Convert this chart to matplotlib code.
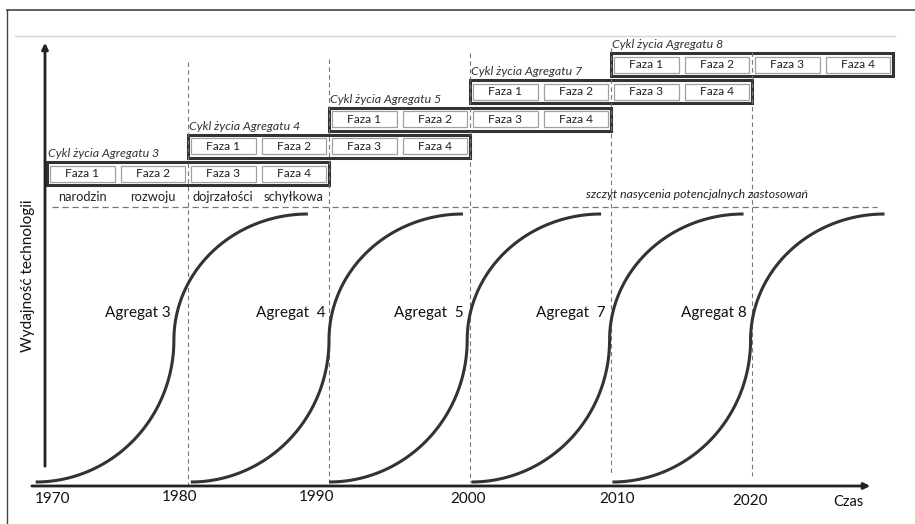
import numpy as np
import matplotlib
matplotlib.use('Agg')
import matplotlib.pyplot as plt
from matplotlib.patches import Rectangle

plt.rcParams['font.family'] = ['Lato', 'DejaVu Sans']

# data
aggregates = ['3', '4', '5', '7', '8']
agg_labels = ['Agregat 3', 'Agregat  4', 'Agregat  5', 'Agregat  7', 'Agregat 8']
cycle_start = [1970, 1980, 1990, 2000, 2010]          # start of life cycle (boxes)
curve_start = [1969.2, 1980.2, 1990.0, 2000.1, 2010.1]  # start of S-curve
rise_years = 9.8       # years to inflection
sat_years = 9.5        # years from inflection to saturation
cycle_len = 20
phases = ['Faza 1', 'Faza 2', 'Faza 3', 'Faza 4']
phase_names = ['narodzin', 'rozwoju', 'dojrzałości', 'schyłkowa']
decades = [1970, 1980, 1990, 2000, 2010, 2020]

# pixel-like vertical layout (y grows downward)
Y_BASE, Y_INFL, Y_TOP = 482, 340, 214
Y_SAT = 207
PX = 14.1  # pixels per year

fig = plt.figure(figsize=(9.15, 5.24), dpi=100)
ax = fig.add_axes([0, 0, 1, 1])
ax.set_xlim(1970 - 47 / PX, 1970 + (915 - 47) / PX)
ax.set_ylim(524, 0)
ax.axis('off')

def yr(px):
    return 1970 + (px - 47) / PX

# frame and top rule
ax.plot([yr(7), yr(7)], [10, 524], color='#444', lw=1)
ax.plot([yr(7), yr(915)], [10, 10], color='#444', lw=1.2)
ax.plot([yr(15), yr(895)], [36, 36], color='#d4d4d4', lw=1)

# axes arrows
ax.annotate('', xy=(yr(45), 40), xytext=(yr(45), 469),
            arrowprops=dict(arrowstyle='-|>', lw=2, color='#222', mutation_scale=9))
ax.annotate('', xy=(yr(873), 486), xytext=(yr(29), 486),
            arrowprops=dict(arrowstyle='-|>', lw=2, color='#222', mutation_scale=9))

# decade dashed lines
line_tops = [62, 59, 53, 48, 52]
line_bots = [484, 482, 482, 473, 476]
for d, t, b in zip(decades[1:], line_tops, line_bots):
    ax.plot([d, d], [t, b], color='#777', lw=0.8, dashes=(4, 3))

# saturation line
ax.plot([yr(52), yr(877)], [Y_SAT, Y_SAT], color='#777', lw=0.9, dashes=(5, 3))
ax.text(yr(697), 194, 'szczyt nasycenia potencjalnych zastosowań', style='italic',
        fontsize=8.8, ha='center', va='center', color='#222')

# S-curves
t = np.linspace(0, np.pi / 2, 60)
for s, lab in zip(curve_start, agg_labels):
    xb = s + rise_years * np.sin(t)
    yb = Y_INFL + (Y_BASE - Y_INFL) * np.cos(t)
    xt = s + rise_years + sat_years * (1 - np.cos(t))
    yt = Y_INFL - (Y_INFL - Y_TOP) * np.sin(t)
    ax.plot(np.r_[xb, xt], np.r_[yb, yt], color='#333', lw=2.2, solid_capstyle='butt')
    ax.text(s + rise_years - 0.25, 313, lab, fontsize=11, ha='right', va='center', color='#111')

# life cycle boxes
for i, (c, a) in enumerate(zip(cycle_start, aggregates)):
    top = 162 - 27.2 * i
    h = 23
    ax.add_patch(Rectangle((c, top), cycle_len, h, fill=False, ec='#333', lw=2.2))
    ax.text(c + 0.05, top - 8.5, 'Cykl życia Agregatu ' + a, style='italic',
            fontsize=8.9, ha='left', va='center', color='#333')
    pw = cycle_len / len(phases)
    pad = 3 / PX
    for k, ph in enumerate(phases):
        x0 = c + k * pw + pad
        ax.add_patch(Rectangle((x0, top + 3.5), pw - 2 * pad, h - 7, fill=False,
                               ec='#a0a0a0', lw=0.9))
        ax.text(c + (k + 0.5) * pw, top + h / 2, ph, fontsize=8.6,
                ha='center', va='center', color='#222')

# phase names under first box
for k, nm in enumerate(phase_names):
    ax.text(cycle_start[0] + (k + 0.5) * cycle_len / 4, 197, nm, fontsize=9.3,
            ha='center', va='center', color='#222')

# axis labels
tick_px = [53, 180, 317, 468, 617, 750]
tick_py = [499, 497, 497, 499, 499, 501]
for d, px, py in zip(decades, tick_px, tick_py):
    ax.text(yr(px), py, str(d), fontsize=11, ha='center', va='center', color='#111')
ax.text(yr(848), 502, 'Czas', fontsize=10.5, ha='center', va='center', color='#111')
ax.text(yr(28), 276, 'Wydajność technologii', fontsize=11, rotation=90,
        ha='center', va='center', color='#111')

fig.savefig('out.png', dpi=100)
